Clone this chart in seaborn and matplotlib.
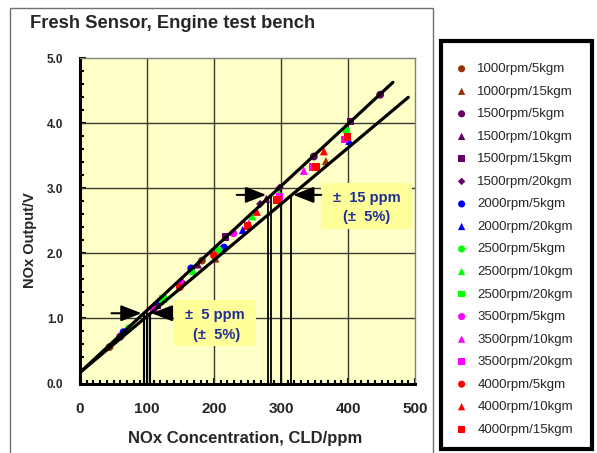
import numpy as np
import pandas as pd
import matplotlib
matplotlib.use("Agg")
import matplotlib.pyplot as plt
from matplotlib.patches import Rectangle
import seaborn as sns

# ---------------- data ----------------
series_names = ["1000rpm/5kgm", "1000rpm/15kgm", "1500rpm/5kgm", "1500rpm/10kgm",
                "1500rpm/15kgm", "1500rpm/20kgm", "2000rpm/5kgm", "2000rpm/20kgm",
                "2500rpm/5kgm", "2500rpm/10kgm", "2500rpm/20kgm", "3500rpm/5kgm",
                "3500rpm/10kgm", "3500rpm/20kgm", "4000rpm/5kgm", "4000rpm/10kgm",
                "4000rpm/15kgm"]
series_x = [
    [182, 44],
    [202, 367],
    [60, 448, 349],
    [176, 278],
    [404, 217, 115],
    [269, 298, 152],
    [65, 166, 215],
    [243, 402, 120],
    [73, 207, 397],
    [257, 169, 297],
    [124],
    [229, 110],
    [334, 252],
    [347, 395, 298, 150],
    [200, 149],
    [364, 264],
    [294, 352, 399, 250],
]
series_y = [
    [1.89, 0.56],
    [1.92, 3.42],
    [0.72, 4.44, 3.49],
    [1.83, 2.84],
    [4.03, 2.25, 1.20],
    [2.76, 3.01, 1.56],
    [0.79, 1.77, 2.09],
    [2.36, 3.73, 1.28],
    [0.85, 2.05, 3.89],
    [2.57, 1.73, 2.92],
    [1.30],
    [2.31, 1.13],
    [3.27, 2.46],
    [3.33, 3.75, 2.87, 1.53],
    [1.97, 1.48],
    [3.57, 2.64],
    [2.82, 3.33, 3.79, 2.42],
]
series_colors = ["#993300", "#993300", "#660066", "#660066", "#660066", "#660066",
                 "#0000ff", "#0000ff", "#00ff00", "#00ff00", "#00ff00",
                 "#ff00ff", "#ff00ff", "#ff00ff", "#ff0000", "#ff0000", "#ff0000"]
series_markers = ["o", "^", "o", "^", "s", "D", "o", "^", "o", "^", "s",
                  "o", "^", "s", "o", "^", "s"]

# tolerance band lines (+5% / -5%)
upper_x = [0, 467]
upper_y = [0.17, 4.63]
lower_x = [0, 490]
lower_y = [0.17, 4.40]

# vertical reading lines
vsmall_x = [95, 100, 105]
vsmall_top = [1.09, 1.09, 1.09]
vlarge_x = [280, 285, 300, 315]
vlarge_top = [2.87, 2.87, 2.97, 2.87]

x_ticks = [0, 100, 200, 300, 400, 500]
y_ticks = [0.0, 1.0, 2.0, 3.0, 4.0, 5.0]

# ---------------- figure ----------------
sns.set_theme(style="white")
plt.rcParams["font.family"] = ["Liberation Sans", "DejaVu Sans"]

W, H = 597, 453
fig = plt.figure(figsize=(W / 100, H / 100), dpi=100)
fig.patch.set_facecolor("white")

def fx(px):
    return px / W

def fy(py):
    return 1 - py / H

# outer frame of the chart area
fig.patches.append(Rectangle((fx(10), fy(470)), fx(433) - fx(10), fy(8) - fy(470),
                             transform=fig.transFigure, fill=False,
                             edgecolor="#707070", linewidth=1.0, zorder=0))

ax = fig.add_axes([fx(80), fy(383.5), fx(415) - fx(80), fy(58.3) - fy(383.5)])
ax.set_facecolor("#ffffc8")

# grid
for xv in x_ticks[1:-1]:
    ax.axvline(xv, color="#3a3a30", lw=1.0, zorder=1)
for yv in y_ticks[1:-1]:
    ax.axhline(yv, color="#3a3a30", lw=1.0, zorder=1)

# text boxes
ax.add_patch(Rectangle((359, 2.38), 137, 0.71, facecolor="#ffff99",
                       edgecolor="none", zorder=2))
ax.add_patch(Rectangle((140, 0.58), 122, 0.70, facecolor="#ffff99",
                       edgecolor="none", zorder=2))

marker_sizes = {"o": 32, "^": 34, "s": 30, "D": 18}
for name, xs, ys, col, m in zip(series_names, series_x, series_y,
                                series_colors, series_markers):
    d = pd.DataFrame({"cld": xs, "out": ys})
    sns.scatterplot(data=d, x="cld", y="out", color=col, marker=m,
                    s=marker_sizes[m], edgecolor="none", linewidth=0,
                    ax=ax, zorder=4, label=name)

# band lines
sns.lineplot(x=upper_x, y=upper_y, ax=ax, color="black", lw=2.3, zorder=5)
sns.lineplot(x=lower_x, y=lower_y, ax=ax, color="black", lw=2.3, zorder=5)

# vertical lines
ax.vlines(vsmall_x, 0, vsmall_top, color="black", lw=1.5, zorder=3)
ax.vlines(vlarge_x, 0, vlarge_top, color="black", lw=1.3, zorder=3)

# arrows
arrow_kw = dict(arrowstyle="-|>,head_length=0.9,head_width=0.35", color="black",
                lw=1.5, shrinkA=0, shrinkB=0, mutation_scale=14)
ax.annotate("", xy=(92, 1.08), xytext=(47, 1.08), arrowprops=arrow_kw, zorder=6)
ax.annotate("", xy=(107, 1.08), xytext=(132, 1.08), arrowprops=arrow_kw, zorder=6)
ax.annotate("", xy=(278, 2.9), xytext=(234, 2.9), arrowprops=arrow_kw, zorder=6)
ax.annotate("", xy=(318, 2.9), xytext=(360, 2.9), arrowprops=arrow_kw, zorder=6)

tcol = "#1f2f95"
ax.text(428, 2.85, "±  15 ppm", ha="center", va="center", color=tcol,
        fontsize=10.5, fontweight="bold", zorder=7)
ax.text(428, 2.56, "(±  5%)", ha="center", va="center", color=tcol,
        fontsize=10.5, fontweight="bold", zorder=7)
ax.text(201, 1.05, "±  5 ppm", ha="center", va="center", color=tcol,
        fontsize=10.5, fontweight="bold", zorder=7)
ax.text(204, 0.74, "(±  5%)", ha="center", va="center", color=tcol,
        fontsize=10.5, fontweight="bold", zorder=7)

# axes styling
ax.set_xlim(0, 500)
ax.set_ylim(0, 5.0)
ax.set_xticks(x_ticks)
ax.set_yticks(y_ticks)
ax.set_xticks(np.arange(0, 501, 10), minor=True)
ax.set_yticks(np.arange(0, 5.01, 0.2), minor=True)
ax.set_xticklabels([str(v) for v in x_ticks], fontsize=11, fontweight="bold")
ax.set_yticklabels([f"{v:.1f}" for v in y_ticks], fontsize=8.5, fontweight="bold")
ax.tick_params(axis="both", which="both", direction="in", color="black",
               bottom=True, left=True, top=False, right=False)
ax.tick_params(axis="both", which="major", length=4, width=1.5)
ax.tick_params(axis="both", which="minor", length=3, width=1.5)
ax.tick_params(axis="x", which="major", pad=13)
ax.tick_params(axis="y", which="major", pad=12)

for side in ["left", "bottom"]:
    ax.spines[side].set_color("black")
    ax.spines[side].set_linewidth(2.2)
for side in ["top", "right"]:
    ax.spines[side].set_color("#808080")
    ax.spines[side].set_linewidth(1.0)

ax.set_xlabel("")
ax.set_ylabel("")
fig.text(fx(245), fy(439), "NOx Concentration, CLD/ppm", ha="center", va="center",
         fontsize=12, fontweight="bold")
fig.text(fx(30), fy(240), "NOx Output/V", ha="center", va="center",
         rotation=90, fontsize=10.5, fontweight="bold")
fig.text(fx(30), fy(23), "Fresh Sensor, Engine test bench", ha="left", va="center",
         fontsize=13.2, fontweight="bold")

# legend
handles, labels = ax.get_legend_handles_labels()
ax.get_legend().remove()
fig.patches.append(Rectangle((fx(441), fy(449)), fx(592) - fx(441), fy(41) - fy(449),
                             transform=fig.transFigure, fill=False,
                             edgecolor="black", linewidth=3.0, zorder=0))
leg = fig.legend(handles, labels, loc="upper left",
                 bbox_to_anchor=(fx(455), fy(63)), frameon=False,
                 fontsize=9.5, borderpad=0, borderaxespad=0,
                 handlelength=1.0, handletextpad=0.7, labelspacing=0.78,
                 markerscale=0.9)

fig.savefig("out.png", dpi=100)
